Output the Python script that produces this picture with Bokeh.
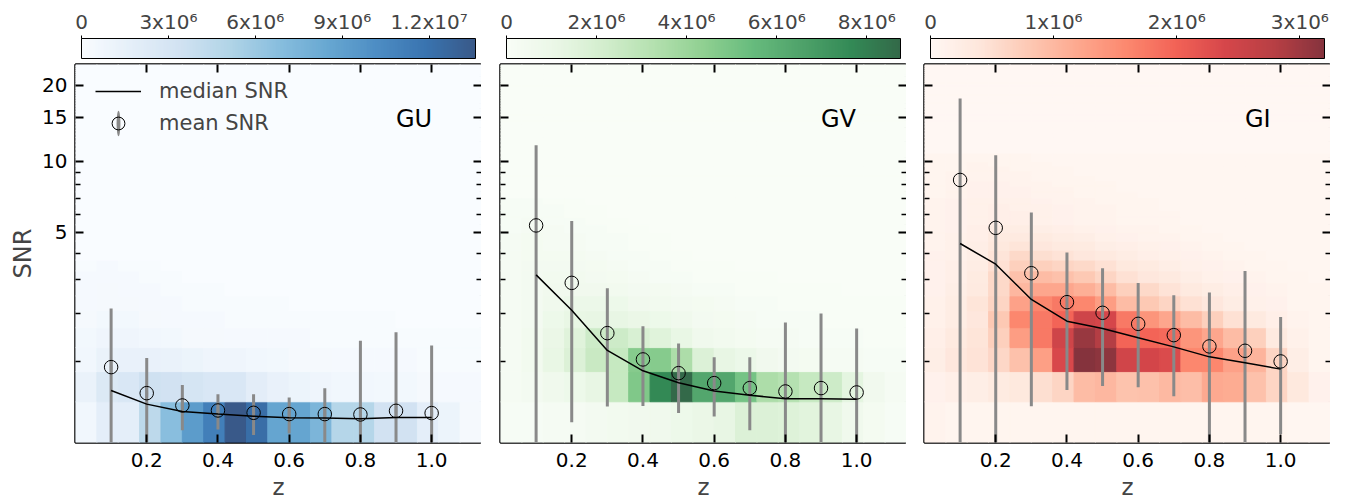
import numpy as np
from bokeh.plotting import figure
from bokeh.layouts import row
from bokeh.models import (ColumnDataSource, LinearColorMapper, ColorBar, FixedTicker,
                          CustomJSTickFormatter, PrintfTickFormatter, LinearAxis, Range1d,
                          Legend, LegendItem)
from bokeh.palettes import Blues256, Greens256, Reds256
from bokeh.transform import transform
from bokeh.core.properties import value
from bokeh.embed import file_html
from bokeh.resources import INLINE

# ---------------- data ----------------
# redshift bins of the 2D histogram and SNR bins
z_edges = [0.00, 0.06, 0.12, 0.18, 0.24, 0.30, 0.36, 0.42, 0.48, 0.54, 0.60,
           0.66, 0.72, 0.78, 0.84, 0.90, 0.96, 1.02, 1.08, 1.14]
snr_bin_width = 0.415
n_snr_bins = 58

# redshift of the binned statistics
z_stat = [0.1, 0.2, 0.3, 0.4, 0.5, 0.6, 0.7, 0.8, 0.9, 1.0]

gu_median = [0.558, 0.387, 0.303, 0.274, 0.252, 0.234, 0.231, 0.224, 0.238, 0.238]
gu_mean = [0.901, 0.523, 0.371, 0.314, 0.288, 0.274, 0.274, 0.270, 0.310, 0.285]
gu_std = [1.23, 0.53, 0.26, 0.196, 0.222, 0.194, 0.315, 1.108, 1.251, 1.001]

gv_median = [3.173, 2.089, 1.191, 0.842, 0.663, 0.550, 0.497, 0.451, 0.451, 0.447]
gv_mean = [5.36, 2.898, 1.54, 1.03, 0.806, 0.659, 0.59, 0.545, 0.59, 0.532]
gv_std = [6.24, 2.71, 1.18, 0.666, 0.52, 0.41, 0.48, 1.237, 1.413, 1.111]

gi_median = [4.453, 3.57, 2.384, 1.813, 1.643, 1.44, 1.259, 1.075, 0.972, 0.869]
gi_mean = [8.37, 5.23, 3.233, 2.307, 2.02, 1.749, 1.497, 1.268, 1.185, 0.996]
gi_std = [9.38, 5.34, 2.87, 1.743, 1.40, 1.149, 1.013, 1.324, 2.13, 0.92]

# peak counts of each 2D histogram
gu_peak = 13.6e6
gv_peak = 8.75e6
gi_peak = 3.2e6

# histogram counts relative to the peak, rows from the lowest SNR bin upward
# (19 redshift bins per row); all higher SNR bins are empty
gu_rel = [
    [0.05, 0.13, 0.13, 0.33, 0.50, 0.68, 0.82, 1.00, 0.90, 0.64, 0.64, 0.55, 0.36, 0.36, 0.25, 0.25, 0.13, 0.08, 0.03],
    [0.09, 0.18, 0.20, 0.26, 0.25, 0.23, 0.20, 0.20, 0.14, 0.10, 0.08, 0.06, 0.05, 0.05, 0.04, 0.04, 0.03, 0.02, 0.02],
    [0.05, 0.09, 0.10, 0.10, 0.09, 0.08, 0.06, 0.06, 0.05, 0.04, 0.03, 0.03, 0.02, 0.02, 0.02, 0.02, 0.01, 0.01, 0.01],
    [0.04, 0.06, 0.06, 0.05, 0.04, 0.03, 0.03, 0.02, 0.02, 0.02, 0.02, 0.01, 0.01, 0.01, 0.01, 0.01, 0.01, 0.01, 0.01],
    [0.03, 0.04, 0.04, 0.03, 0.02, 0.02, 0.02, 0.01, 0.01, 0.01, 0.01, 0.01, 0.01, 0.01, 0.01, 0.00, 0.00, 0.00, 0.00],
    [0.02, 0.03, 0.03, 0.02, 0.02, 0.01, 0.01, 0.01, 0.01, 0.01, 0.00, 0.00, 0.00, 0.00, 0.00, 0.00, 0.00, 0.00, 0.00],
    [0.02, 0.03, 0.02, 0.02, 0.01, 0.01, 0.01, 0.00, 0.00, 0.00, 0.00, 0.00, 0.00, 0.00, 0.00, 0.00, 0.00, 0.00, 0.00],
    [0.02, 0.02, 0.02, 0.01, 0.01, 0.00, 0.00, 0.00, 0.00, 0.00, 0.00, 0.00, 0.00, 0.00, 0.00, 0.00, 0.00, 0.00, 0.00],
    [0.01, 0.02, 0.01, 0.01, 0.00, 0.00, 0.00, 0.00, 0.00, 0.00, 0.00, 0.00, 0.00, 0.00, 0.00, 0.00, 0.00, 0.00, 0.00],
]

gv_rel = [
    [0.02, 0.02, 0.03, 0.03, 0.05, 0.06, 0.07, 0.08, 0.10, 0.12, 0.14, 0.20, 0.20, 0.19, 0.17, 0.14, 0.08, 0.04, 0.02],
    [0.03, 0.05, 0.08, 0.10, 0.14, 0.30, 0.55, 0.88, 1.00, 0.73, 0.73, 0.58, 0.40, 0.37, 0.30, 0.27, 0.16, 0.07, 0.03],
    [0.03, 0.06, 0.13, 0.20, 0.29, 0.30, 0.53, 0.53, 0.40, 0.20, 0.14, 0.11, 0.07, 0.05, 0.04, 0.03, 0.03, 0.02, 0.02],
    [0.03, 0.06, 0.12, 0.18, 0.27, 0.27, 0.22, 0.18, 0.13, 0.08, 0.06, 0.04, 0.03, 0.03, 0.02, 0.02, 0.02, 0.01, 0.01],
    [0.03, 0.05, 0.10, 0.13, 0.14, 0.14, 0.12, 0.10, 0.08, 0.05, 0.04, 0.03, 0.02, 0.02, 0.02, 0.01, 0.01, 0.01, 0.01],
    [0.03, 0.05, 0.08, 0.11, 0.11, 0.10, 0.07, 0.06, 0.05, 0.04, 0.03, 0.02, 0.02, 0.01, 0.01, 0.01, 0.01, 0.01, 0.01],
    [0.03, 0.05, 0.07, 0.07, 0.07, 0.06, 0.05, 0.04, 0.03, 0.02, 0.02, 0.01, 0.01, 0.01, 0.01, 0.01, 0.00, 0.00, 0.00],
    [0.03, 0.05, 0.06, 0.06, 0.05, 0.04, 0.03, 0.02, 0.02, 0.01, 0.01, 0.01, 0.01, 0.00, 0.00, 0.00, 0.00, 0.00, 0.00],
    [0.03, 0.05, 0.05, 0.05, 0.04, 0.03, 0.02, 0.02, 0.01, 0.01, 0.01, 0.00, 0.00, 0.00, 0.00, 0.00, 0.00, 0.00, 0.00],
    [0.03, 0.04, 0.04, 0.04, 0.03, 0.02, 0.02, 0.01, 0.01, 0.00, 0.00, 0.00, 0.00, 0.00, 0.00, 0.00, 0.00, 0.00, 0.00],
    [0.03, 0.04, 0.03, 0.03, 0.02, 0.02, 0.01, 0.01, 0.00, 0.00, 0.00, 0.00, 0.00, 0.00, 0.00, 0.00, 0.00, 0.00, 0.00],
    [0.03, 0.04, 0.03, 0.03, 0.02, 0.02, 0.01, 0.01, 0.00, 0.00, 0.00, 0.00, 0.00, 0.00, 0.00, 0.00, 0.00, 0.00, 0.00],
    [0.02, 0.03, 0.03, 0.02, 0.02, 0.01, 0.01, 0.00, 0.00, 0.00, 0.00, 0.00, 0.00, 0.00, 0.00, 0.00, 0.00, 0.00, 0.00],
    [0.02, 0.03, 0.02, 0.02, 0.01, 0.01, 0.00, 0.00, 0.00, 0.00, 0.00, 0.00, 0.00, 0.00, 0.00, 0.00, 0.00, 0.00, 0.00],
    [0.02, 0.02, 0.02, 0.01, 0.01, 0.00, 0.00, 0.00, 0.00, 0.00, 0.00, 0.00, 0.00, 0.00, 0.00, 0.00, 0.00, 0.00, 0.00],
    [0.02, 0.02, 0.02, 0.01, 0.01, 0.00, 0.00, 0.00, 0.00, 0.00, 0.00, 0.00, 0.00, 0.00, 0.00, 0.00, 0.00, 0.00, 0.00],
    [0.02, 0.02, 0.01, 0.01, 0.00, 0.00, 0.00, 0.00, 0.00, 0.00, 0.00, 0.00, 0.00, 0.00, 0.00, 0.00, 0.00, 0.00, 0.00],
]

gi_rel = [
    [0.03, 0.02, 0.02, 0.02, 0.02, 0.02, 0.02, 0.02, 0.02, 0.02, 0.02, 0.02, 0.02, 0.02, 0.02, 0.02, 0.02, 0.01, 0.01],
    [0.04, 0.06, 0.07, 0.09, 0.11, 0.16, 0.20, 0.30, 0.32, 0.27, 0.28, 0.31, 0.29, 0.37, 0.36, 0.28, 0.20, 0.11, 0.04],
    [0.07, 0.12, 0.14, 0.19, 0.28, 0.41, 0.74, 1.00, 0.98, 0.77, 0.76, 0.73, 0.50, 0.50, 0.40, 0.33, 0.20, 0.07, 0.02],
    [0.06, 0.10, 0.13, 0.22, 0.42, 0.55, 0.78, 0.95, 0.88, 0.62, 0.62, 0.60, 0.45, 0.38, 0.30, 0.22, 0.10, 0.05, 0.02],
    [0.05, 0.08, 0.12, 0.25, 0.50, 0.55, 0.62, 0.78, 0.75, 0.55, 0.45, 0.38, 0.30, 0.22, 0.15, 0.10, 0.06, 0.03, 0.02],
    [0.05, 0.08, 0.13, 0.20, 0.40, 0.50, 0.55, 0.50, 0.42, 0.30, 0.25, 0.20, 0.15, 0.12, 0.08, 0.05, 0.04, 0.02, 0.02],
    [0.04, 0.07, 0.10, 0.18, 0.32, 0.38, 0.38, 0.35, 0.30, 0.22, 0.18, 0.14, 0.10, 0.08, 0.06, 0.04, 0.03, 0.02, 0.02],
    [0.04, 0.06, 0.09, 0.18, 0.28, 0.30, 0.28, 0.25, 0.20, 0.15, 0.12, 0.10, 0.07, 0.05, 0.04, 0.03, 0.02, 0.02, 0.01],
    [0.04, 0.06, 0.08, 0.15, 0.22, 0.22, 0.20, 0.18, 0.15, 0.11, 0.09, 0.07, 0.05, 0.04, 0.03, 0.02, 0.02, 0.01, 0.01],
    [0.04, 0.05, 0.07, 0.13, 0.18, 0.16, 0.14, 0.12, 0.10, 0.08, 0.06, 0.05, 0.04, 0.03, 0.02, 0.02, 0.01, 0.01, 0.01],
    [0.03, 0.05, 0.07, 0.11, 0.13, 0.12, 0.10, 0.09, 0.07, 0.06, 0.05, 0.04, 0.03, 0.02, 0.02, 0.01, 0.01, 0.01, 0.01],
    [0.03, 0.05, 0.06, 0.09, 0.10, 0.09, 0.08, 0.07, 0.05, 0.04, 0.03, 0.03, 0.02, 0.02, 0.01, 0.01, 0.01, 0.01, 0.01],
    [0.03, 0.04, 0.06, 0.08, 0.08, 0.07, 0.06, 0.05, 0.04, 0.03, 0.03, 0.02, 0.02, 0.01, 0.01, 0.01, 0.01, 0.01, 0.01],
    [0.03, 0.04, 0.05, 0.06, 0.06, 0.05, 0.04, 0.03, 0.03, 0.02, 0.02, 0.02, 0.01, 0.01, 0.01, 0.01, 0.01, 0.01, 0.01],
    [0.03, 0.04, 0.05, 0.06, 0.06, 0.05, 0.04, 0.03, 0.03, 0.02, 0.02, 0.02, 0.01, 0.01, 0.01, 0.01, 0.01, 0.01, 0.01],
    [0.03, 0.04, 0.05, 0.06, 0.05, 0.05, 0.04, 0.03, 0.03, 0.02, 0.02, 0.01, 0.01, 0.01, 0.01, 0.01, 0.01, 0.01, 0.01],
    [0.03, 0.04, 0.05, 0.05, 0.05, 0.04, 0.03, 0.03, 0.02, 0.02, 0.02, 0.01, 0.01, 0.01, 0.01, 0.01, 0.01, 0.01, 0.01],
    [0.02, 0.03, 0.04, 0.04, 0.04, 0.03, 0.03, 0.02, 0.02, 0.02, 0.01, 0.01, 0.01, 0.01, 0.01, 0.01, 0.01, 0.01, 0.01],
    [0.02, 0.03, 0.04, 0.04, 0.04, 0.03, 0.03, 0.02, 0.02, 0.01, 0.01, 0.01, 0.01, 0.01, 0.01, 0.01, 0.01, 0.01, 0.01],
    [0.02, 0.03, 0.04, 0.04, 0.03, 0.03, 0.02, 0.02, 0.02, 0.01, 0.01, 0.01, 0.01, 0.01, 0.01, 0.01, 0.01, 0.01, 0.01],
    [0.02, 0.03, 0.03, 0.03, 0.03, 0.02, 0.02, 0.02, 0.01, 0.01, 0.01, 0.01, 0.01, 0.01, 0.01, 0.01, 0.01, 0.01, 0.01],
    [0.02, 0.03, 0.03, 0.03, 0.03, 0.02, 0.02, 0.01, 0.01, 0.01, 0.01, 0.01, 0.01, 0.01, 0.01, 0.01, 0.01, 0.01, 0.01],
    [0.02, 0.02, 0.03, 0.03, 0.02, 0.02, 0.02, 0.01, 0.01, 0.01, 0.01, 0.01, 0.01, 0.01, 0.01, 0.01, 0.01, 0.01, 0.01],
    [0.02, 0.02, 0.03, 0.02, 0.02, 0.02, 0.01, 0.01, 0.01, 0.01, 0.01, 0.01, 0.01, 0.01, 0.01, 0.01, 0.01, 0.01, 0.01],
    [0.02, 0.02, 0.02, 0.02, 0.02, 0.01, 0.01, 0.01, 0.01, 0.01, 0.01, 0.01, 0.01, 0.01, 0.01, 0.01, 0.01, 0.01, 0.01],
    [0.02, 0.02, 0.02, 0.02, 0.02, 0.01, 0.01, 0.01, 0.01, 0.01, 0.01, 0.01, 0.01, 0.01, 0.01, 0.01, 0.01, 0.01, 0.01],
]

cbar_ticks_gu = [0, 3e6, 6e6, 9e6, 1.2e7]
cbar_ticks_gv = [0, 2e6, 4e6, 6e6, 8e6]
cbar_ticks_gi = [0, 1e6, 2e6, 3e6]
z_ticks = [0.2, 0.4, 0.6, 0.8, 1.0]
snr_major_ticks = [5, 10, 15, 20]
snr_minor_ticks = [1, 2, 3, 4, 6, 7, 8, 9]

# ---------------- styling ----------------
FONT = "DejaVu Sans"
ALPHA = 0.8
BAR_COLOR = "#898989"


def tr(s):
    """SNR axis transform used by the figure: log10(1 + SNR)."""
    return np.log10(1.0 + np.asarray(s, dtype=float))


def blend(hexcol, a=ALPHA):
    r, g, b = (int(hexcol[i:i + 2], 16) for i in (1, 3, 5))
    return "#%02x%02x%02x" % tuple(int(round(a * c + (1 - a) * 255)) for c in (r, g, b))


sup_fmt = CustomJSTickFormatter(code="""
if (tick == 0) { return '0'; }
const e = Math.floor(Math.log10(tick) + 1e-9);
const m = Math.round(tick / Math.pow(10, e) * 10) / 10;
const sup = {'0':'\u2070','1':'\u00b9','2':'\u00b2','3':'\u00b3','4':'\u2074',
             '5':'\u2075','6':'\u2076','7':'\u2077','8':'\u2078','9':'\u2079'};
return m + 'x10' + String(e).split('').map(c => sup[c]).join('');
""")
snr_fmt = CustomJSTickFormatter(code="return Math.round(Math.pow(10, tick) - 1).toFixed(0);")
empty_fmt = CustomJSTickFormatter(code="return '';")

snr_top = n_snr_bins * snr_bin_width
snr_edges = np.arange(n_snr_bins + 1) * snr_bin_width


def style_axis(ax, labels, minor):
    ax.axis_line_color = None
    ax.major_tick_in = 8
    ax.major_tick_out = 0
    ax.major_tick_line_width = 2
    ax.major_tick_line_color = "black"
    if minor:
        ax.minor_tick_in = 5
        ax.minor_tick_out = 0
        ax.minor_tick_line_width = 1.5
        ax.minor_tick_line_color = "black"
    else:
        ax.minor_tick_line_color = None
    ax.major_label_text_font = FONT
    ax.major_label_text_color = "black"
    if labels:
        ax.major_label_text_font_size = "20px"
    else:
        ax.major_label_text_font_size = "0px"
        ax.major_label_standoff = 0


def make_panel(name, rel, peak, palette, cbar_ticks, median, mean, std, border_left, first):
    grid = np.zeros((n_snr_bins, len(z_edges) - 1))
    grid[:len(rel)] = np.array(rel) * peak
    L, R, B, T, C = [], [], [], [], []
    for j in range(n_snr_bins):
        for i in range(len(z_edges) - 1):
            L.append(z_edges[i]); R.append(z_edges[i + 1])
            B.append(tr(snr_edges[j])); T.append(tr(snr_edges[j + 1]))
            C.append(grid[j, i])
    src = ColumnDataSource(dict(l=L, r=R, b=B, t=T, c=C))

    pal = [blend(c) for c in palette[::-1]]
    mapper = LinearColorMapper(palette=pal, low=0, high=peak)

    p = figure(frame_width=406, height=502,
               x_range=Range1d(z_edges[0], z_edges[-1]),
               y_range=Range1d(0, float(tr(snr_top))),
               output_backend="svg", toolbar_location=None,
               min_border_left=border_left, min_border_right=0,
               min_border_top=64, min_border_bottom=0)
    p.outline_line_color = "black"
    p.outline_line_width = 2.5
    p.grid.visible = False
    p.background_fill_color = pal[0]
    p.border_fill_color = "white"

    p.quad(left="l", right="r", bottom="b", top="t", source=src,
           fill_color=transform("c", mapper), line_color=transform("c", mapper), line_width=1)

    lo = tr(np.maximum(np.array(mean) - np.array(std), 0))
    hi = tr(np.array(mean) + np.array(std))
    p.segment(x0=z_stat, y0=lo, x1=z_stat, y1=hi, line_color=BAR_COLOR, line_width=3)
    ell = None
    if first:
        ell = p.ellipse(x=z_stat, y=tr(mean), width=3, height=20,
                        width_units="screen", height_units="screen",
                        fill_color=BAR_COLOR, line_color=None)
    med_r = p.line(z_stat, tr(median), line_color="black", line_width=1.5)
    mean_r = p.scatter(z_stat, tr(mean), marker="circle", size=13.5,
                       fill_color=None, line_color="black", line_width=1)

    p.text(x=[0.9], y=[float(tr(14.8))], text=[name], text_font=value(FONT),
           text_font_size="24px", text_baseline="alphabetic", text_align="left",
           text_color="black")

    # axes
    xb = p.xaxis[0]
    xb.ticker = FixedTicker(ticks=z_ticks, minor_ticks=[])
    xb.formatter = PrintfTickFormatter(format="%.1f")
    style_axis(xb, True, False)
    xb.major_label_standoff = 10
    xb.axis_label = "z"
    xb.axis_label_text_font = FONT
    xb.axis_label_text_font_size = "23px"
    xb.axis_label_text_font_style = "normal"
    xb.axis_label_standoff = 4

    yl = p.yaxis[0]
    yl.ticker = FixedTicker(ticks=list(tr(snr_major_ticks)), minor_ticks=list(tr(snr_minor_ticks)))
    if first:
        yl.formatter = snr_fmt
        style_axis(yl, True, True)
        yl.major_label_standoff = 8
        yl.axis_label = "SNR"
        yl.axis_label_text_font = FONT
        yl.axis_label_text_font_size = "24px"
        yl.axis_label_text_font_style = "normal"
        yl.axis_label_standoff = 2
    else:
        yl.formatter = empty_fmt
        style_axis(yl, False, True)

    yr = LinearAxis(ticker=FixedTicker(ticks=list(tr(snr_major_ticks)),
                                       minor_ticks=list(tr(snr_minor_ticks))),
                    formatter=empty_fmt)
    style_axis(yr, False, True)
    p.add_layout(yr, "right")

    xt = LinearAxis(ticker=FixedTicker(ticks=z_ticks, minor_ticks=[]), formatter=empty_fmt)
    style_axis(xt, False, False)
    p.add_layout(xt, "above")

    cb = ColorBar(color_mapper=mapper, orientation="horizontal",
                  ticker=FixedTicker(ticks=cbar_ticks, minor_ticks=[]),
                  formatter=sup_fmt, height=20, padding=6, margin=8,
                  major_label_text_font=FONT, major_label_text_font_size="20px",
                  label_standoff=2,
                  major_tick_in=0, major_tick_out=3, major_tick_line_color="black",
                  minor_tick_line_color=None,
                  bar_line_color="black", bar_line_width=1,
                  background_fill_alpha=0, border_line_color=None)
    p.add_layout(cb, "above")

    if first:
        legend = Legend(items=[LegendItem(label="median SNR", renderers=[med_r]),
                               LegendItem(label="mean SNR", renderers=[ell, mean_r])],
                        location=(20, 303), glyph_width=46, glyph_height=32,
                        label_standoff=18, spacing=0, padding=0, margin=0,
                        label_text_font=FONT, label_text_font_size="21px",
                        background_fill_alpha=0, border_line_alpha=0)
        p.add_layout(legend)
    return p


p1 = make_panel("GU", gu_rel, gu_peak, Blues256, cbar_ticks_gu, gu_median, gu_mean, gu_std, 75, True)
p2 = make_panel("GV", gv_rel, gv_peak, Greens256, cbar_ticks_gv, gv_median, gv_mean, gv_std, 19, False)
p3 = make_panel("GI", gi_rel, gi_peak, Reds256, cbar_ticks_gi, gi_median, gi_mean, gi_std, 18, False)

layout = row(p1, p2, p3)
open("out.html", "w").write(file_html(layout, INLINE))
